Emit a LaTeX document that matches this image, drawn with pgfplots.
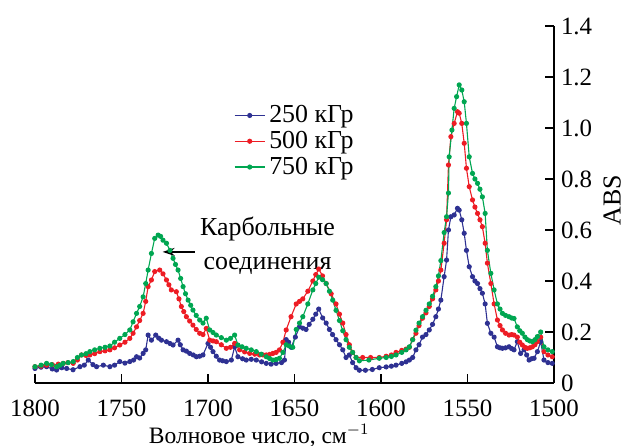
\documentclass[border=0pt]{standalone}
\usepackage{fontspec}
\setmainfont{Liberation Serif}
\newfontfamily\tickfont{Liberation Serif}
\usepackage{pgfplots}
\pgfplotsset{compat=1.18}
\usetikzlibrary{arrows.meta,calc}
\definecolor{cblue}{RGB}{46,49,146}
\definecolor{cred}{RGB}{237,28,36}
\definecolor{cgreen}{RGB}{0,166,81}
\begin{document}
\begin{tikzpicture}
\begin{axis}[
  scale only axis, width=259.5bp, height=178.5bp,
  xmin=1500, xmax=1800, ymin=0, ymax=1.4, x dir=reverse,
  axis x line*=bottom, axis y line*=right,
  axis line style={black, line width=0.6bp, -},
  tick style={black, line width=0.6bp},
  tick align=inside, major tick length=4.5bp,
  xtick={1500,1550,1600,1650,1700,1750,1800},
  xticklabels={1500,1550,1600,1650,1700,1750,1800},
  ytick={0,0.2,0.4,0.6,0.8,1.0,1.2,1.4},
  yticklabels={0,0.2,0.4,0.6,0.8,1.0,1.2,1.4},
  tick label style={font=\tickfont\fontsize{12.5}{12.5}\selectfont},
  xticklabel style={yshift=-5bp},
  xlabel={Волновое число, см$^{-1}$},
  xlabel style={font=\fontsize{11.8}{11.8}\selectfont, at={(axis description cs:0.432,0)}, anchor=north, inner sep=0pt, yshift=-20.5bp},
  ylabel={ABS},
  ylabel style={font=\fontsize{13}{13}\selectfont, at={(axis description cs:1.112,0.513)}, anchor=center},
  legend style={at={(axis description cs:0.383,0.79)}, anchor=north west, draw=none, fill=none,
    font=\fontsize{13}{13}\selectfont, inner sep=0pt, row sep=-1.2bp},
  legend cell align=left,
  legend image code/.code={\draw[mark repeat=2,mark phase=2,#1] plot coordinates {(0bp,0bp) (7.5bp,0bp) (15bp,0bp)};},
  every axis plot/.append style={line width=0.55bp, mark=*, mark size=1bp},
]
\addplot[cblue, mark options={fill=cblue}] coordinates {
(1800,0.057) (1796.5,0.062) (1793.3,0.064) (1790,0.055) (1787.5,0.051) (1784.5,0.06) (1781.7,0.057) (1778,0.052) (1774,0.064) (1771.5,0.07) (1769.2,0.09) (1766.5,0.072) (1764.4,0.064)
(1760.5,0.07) (1756.7,0.064) (1754,0.07) (1751,0.084) (1748,0.078) (1745.2,0.084) (1743,0.09) (1741.3,0.103) (1739.5,0.098) (1737.5,0.116) (1736,0.13) (1734.6,0.188) (1732.7,0.168)
(1730.2,0.188) (1728.5,0.176) (1726.9,0.168) (1724,0.162) (1722,0.155) (1720.2,0.149) (1717.3,0.168) (1716,0.15) (1714.4,0.13) (1712.5,0.125) (1710.6,0.116)
(1708.5,0.11) (1706.7,0.103) (1704.8,0.105) (1702.9,0.11) (1700,0.155) (1698.5,0.14) (1697.1,0.123) (1695.2,0.105) (1693.3,0.09) (1691.5,0.087) (1689.4,0.084) (1686.5,0.09)
(1684.6,0.142) (1682.7,0.103) (1680,0.095) (1677.9,0.09) (1675,0.093) (1672.1,0.09) (1669,0.083) (1666.3,0.077) (1663.5,0.074) (1660.6,0.077) (1657.5,0.08) (1655.8,0.09)
(1654.8,0.17) (1653.4,0.16) (1651.9,0.14) (1649.5,0.18) (1647.1,0.22) (1645.2,0.215) (1643.3,0.21) (1641.5,0.23) (1639.4,0.25) (1637.7,0.27) (1636,0.29) (1633.7,0.255)
(1631.7,0.235) (1629.8,0.21) (1628,0.19) (1626,0.17) (1624,0.15) (1622.1,0.13) (1620.2,0.10) (1618.3,0.11) (1616.4,0.08) (1614.4,0.06) (1612.5,0.05) (1609,0.05) (1605,0.053) (1601,0.06)
(1597,0.063) (1594,0.066) (1591.3,0.07) (1588,0.077) (1585.5,0.083) (1583.6,0.09) (1581.7,0.10) (1579.8,0.13) (1578,0.15) (1576,0.18) (1574,0.19) (1572.1,0.208) (1570.2,0.23) (1568.3,0.26)
(1566.8,0.29) (1565.4,0.325) (1563.5,0.417) (1562.1,0.482) (1561,0.60) (1559.6,0.652) (1557.7,0.659) (1555.8,0.685)
(1554.8,0.678) (1553.3,0.64) (1551.9,0.587) (1550.6,0.52) (1549,0.456) (1547.1,0.417) (1545.7,0.40) (1544.2,0.39) (1542.8,0.37)
(1541.4,0.352) (1539.8,0.31) (1538.5,0.234) (1536.5,0.195) (1534.6,0.18) (1532.7,0.142) (1531.2,0.138) (1529.8,0.136) (1528,0.138)
(1526,0.142) (1524.5,0.135) (1523.1,0.13) (1521.2,0.162) (1519.3,0.116) (1517.3,0.13) (1515.8,0.11) (1514.4,0.09) (1513,0.095) (1511.5,0.097)
(1509.6,0.123) (1507.7,0.162) (1505.8,0.09) (1503.5,0.08) (1501,0.077)
};
\addlegendentry{250 кГр}
\addplot[cred, mark options={fill=cred}] coordinates {
(1800,0.064) (1796.5,0.066) (1793.3,0.07) (1790,0.072) (1786.5,0.074) (1783.7,0.077) (1781,0.08) (1777.9,0.077) (1775.5,0.09) (1773.1,0.11) (1770.5,0.108) (1768.3,0.11) (1765.5,0.115) (1762.5,0.123)
(1759.5,0.126) (1756.7,0.13) (1754,0.138) (1751,0.149) (1748,0.16) (1745.2,0.175) (1743.3,0.195) (1741.3,0.22) (1739.5,0.245) (1737.5,0.273) (1736,0.32) (1734.6,0.378) (1732.7,0.404)
(1730.8,0.437) (1727.9,0.443) (1726,0.428) (1724,0.404) (1722.6,0.385) (1721.2,0.365) (1718.3,0.358) (1716.8,0.33) (1715.4,0.30) (1714,0.28) (1712.5,0.26) (1710.6,0.243)
(1708.7,0.227) (1706.8,0.21) (1704.8,0.195) (1702.9,0.19) (1701,0.214) (1699,0.168) (1697.1,0.165) (1695.2,0.162) (1692.3,0.15) (1689.4,0.136) (1687,0.14) (1684.6,0.155)
(1681.7,0.13) (1678.8,0.122) (1675.9,0.116) (1673,0.113) (1670.2,0.11) (1668.2,0.11) (1666.3,0.11) (1664.4,0.112) (1662.5,0.116) (1660.6,0.12) (1658.7,0.13) (1656.7,0.16) (1654.8,0.208)
(1652,0.26) (1649,0.31) (1647.1,0.32) (1645.2,0.33) (1642.3,0.36) (1639.4,0.40) (1637.7,0.425) (1636,0.447) (1633.8,0.42) (1631.7,0.39) (1628.8,0.35) (1626,0.31)
(1624,0.27) (1622.1,0.235) (1620.2,0.19) (1618.3,0.15) (1616.4,0.12) (1614.4,0.10) (1610.6,0.10) (1606,0.10) (1601,0.10) (1597,0.105) (1594,0.11) (1591.3,0.12) (1588,0.128) (1585.5,0.133) (1583.6,0.14)
(1581.7,0.17) (1579.8,0.195) (1578,0.225) (1576,0.254) (1574,0.275) (1572.1,0.30) (1570.2,0.33) (1568.3,0.365) (1566.8,0.40) (1565.4,0.443) (1563.5,0.548)
(1562.1,0.64) (1561,0.855) (1559.6,0.966) (1557.7,1.018) (1555.8,1.064) (1554.8,1.058) (1553.3,1.018)
(1551.9,0.94) (1550.6,0.842) (1549,0.77) (1547.1,0.718) (1545.7,0.69) (1544.2,0.665) (1542.8,0.64) (1541.4,0.613) (1539.8,0.548)
(1538.5,0.47) (1536.5,0.39) (1534.6,0.31) (1532.7,0.247) (1531.2,0.225) (1529.8,0.208) (1528,0.195) (1526,0.188) (1524.5,0.19) (1523.1,0.188)
(1521.2,0.18) (1519.8,0.16) (1518.3,0.149) (1516.8,0.14) (1515.4,0.136) (1514,0.138) (1512.5,0.142) (1511,0.15) (1509.6,0.162) (1507.7,0.18) (1505.8,0.123) (1503.5,0.11)
(1501,0.103)
};
\addlegendentry{500 кГр}
\addplot[cgreen, mark options={fill=cgreen}] coordinates {
(1800,0.064) (1796.5,0.07) (1793.3,0.077) (1790.5,0.072) (1787.5,0.064) (1785.5,0.07) (1783.7,0.077) (1780.8,0.08) (1777.9,0.084) (1775.5,0.1) (1773.1,0.11) (1770.5,0.115) (1768.3,0.123)
(1765.5,0.13) (1762.5,0.136) (1759.5,0.14) (1756.7,0.145) (1754,0.16) (1751,0.175) (1748,0.19) (1745.2,0.208) (1743.3,0.24) (1741.3,0.273) (1739.5,0.30) (1737.5,0.338) (1736,0.39) (1734.6,0.443)
(1732.7,0.508) (1730.8,0.567) (1728.8,0.58) (1727.4,0.575) (1726,0.56) (1724,0.548) (1722,0.52) (1720.2,0.489) (1718.8,0.465) (1717.3,0.443) (1715.8,0.41)
(1714.4,0.378) (1713,0.35) (1711.5,0.325) (1710,0.305) (1708.7,0.286) (1706.8,0.265) (1704.8,0.247) (1702.9,0.235) (1701,0.254) (1699,0.208) (1697.1,0.198) (1695.2,0.188) (1692.3,0.178)
(1689.4,0.168) (1687,0.175) (1684.6,0.188) (1682.7,0.149) (1680.3,0.142) (1677.9,0.136) (1675,0.13) (1672.1,0.123) (1669.2,0.113) (1666.3,0.103) (1664.4,0.096) (1662.5,0.09) (1660.6,0.092)
(1658.7,0.097) (1656.7,0.12) (1654.8,0.15) (1653,0.145) (1651,0.14) (1649,0.21) (1647.1,0.235) (1645.2,0.26) (1642.3,0.31) (1639.4,0.365) (1637.7,0.39) (1636,0.415)
(1633.8,0.405) (1631.7,0.39) (1629.8,0.36) (1627.9,0.325) (1626,0.285) (1624,0.245) (1622.1,0.205) (1620.2,0.17) (1618.3,0.14) (1616.4,0.12) (1614.4,0.1) (1612.5,0.087) (1607,0.09) (1601,0.097)
(1597,0.1) (1594,0.104) (1591.3,0.11) (1588,0.12) (1585.5,0.13) (1583.6,0.142) (1581.7,0.17) (1579.8,0.207) (1578,0.235) (1576,0.26) (1574,0.285) (1572.1,0.31) (1570.2,0.34) (1568.3,0.378) (1566.8,0.42) (1565.4,0.48)
(1563.5,0.59) (1562.1,0.652) (1561,0.745) (1560.6,0.887) (1559,0.992) (1557.7,1.077) (1556.3,1.123)
(1554.8,1.169) (1553.3,1.149) (1551.9,1.103) (1550.6,1.018) (1549,0.887) (1547.1,0.822) (1545.7,0.80) (1544.2,0.783) (1542.8,0.76)
(1541.4,0.73) (1539.8,0.665) (1538.5,0.52) (1536.5,0.43) (1534.6,0.365) (1532.7,0.31) (1531.2,0.29) (1529.8,0.273) (1528,0.265)
(1526,0.26) (1524.5,0.255) (1523.1,0.253) (1521.2,0.22) (1519.8,0.205) (1518.3,0.195) (1516.8,0.18) (1515.4,0.17) (1514,0.165) (1512.5,0.162) (1511,0.17) (1509.6,0.182)
(1507.7,0.20) (1505.8,0.142) (1503.5,0.13) (1501,0.123)
};
\addlegendentry{750 кГр}
\node[align=center, font=\fontsize{13}{17}\selectfont] at (axis cs:1665.6,0.538) {Карбольные\\соединения};
\draw[-{Stealth[length=6bp,width=4bp]}, black, line width=0.7bp] (axis cs:1707.7,0.514) -- (axis cs:1726.2,0.514);
\end{axis}
\pgfresetboundingbox
\path ($(current axis.south west)+(-17.5bp,-31.5bp)$) rectangle ($(current axis.north east)+(36bp,13bp)$);
\end{tikzpicture}
\end{document}
